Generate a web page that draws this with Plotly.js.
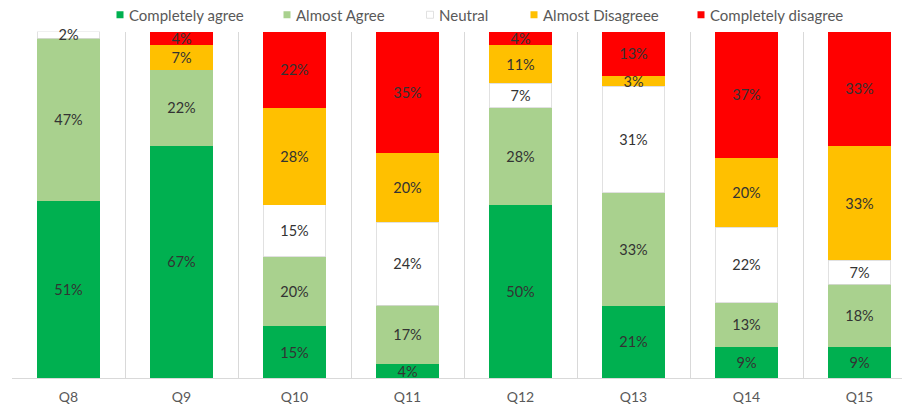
<!DOCTYPE html>
<html>
<head>
<meta charset="utf-8">
<script src="https://cdn.plot.ly/plotly-3.0.1.min.js"></script>
<style>html,body{margin:0;padding:0;background:#fff;overflow:hidden;}</style>
</head>
<body>
<div id="chart" style="width:902px;height:407px;"></div>
<script>
const categories = ["Q8","Q9","Q10","Q11","Q12","Q13","Q14","Q15"];
const seriesNames = ["Completely agree","Almost Agree","Neutral","Almost Disagreee","Completely disagree"];
const completelyAgree    = [51, 67, 15,  4, 50, 21,  9,  9];
const almostAgree        = [47, 22, 20, 17, 28, 33, 13, 18];
const neutral            = [ 2,  0, 15, 24,  7, 31, 22,  7];
const almostDisagree     = [ 0,  7, 28, 20, 11,  3, 20, 33];
const completelyDisagree = [ 0,  4, 22, 35,  4, 13, 37, 33];
const seriesValues = [completelyAgree, almostAgree, neutral, almostDisagree, completelyDisagree];
const seriesColors = ["#00B050","#A9D18E","#FFFFFF","#FFC000","#FF0000"];
const seriesLines  = ["#00B050","#A9D18E","#D9D9D9","#FFC000","#FF0000"];

const FONT = "Lato, 'Liberation Sans', Arial, sans-serif";
// legend text left edges (pixels)
const legendTextX = [129, 296, 439, 543, 710];
const legendIds = ["legend","legend2","legend3","legend4","legend5"];

const traces = seriesValues.map((vals, i) => ({
  type: "bar",
  name: seriesNames[i],
  legend: legendIds[i],
  x: categories,
  y: vals,
  text: vals.map(v => v > 0 ? v + "%" : ""),
  textposition: "inside",
  insidetextanchor: "middle",
  textangle: 0,
  constraintext: "none",
  cliponaxis: false,
  textfont: {family: FONT, size: 14.5, color: "#333333"},
  marker: {color: seriesColors[i], line: {color: seriesLines[i], width: i === 2 ? 0.8 : 0}},
  hoverinfo: "none"
}));

const layout = {
  width: 902, height: 407,
  margin: {l: 12, r: 0, t: 31, b: 29, pad: 0},
  paper_bgcolor: "#ffffff",
  plot_bgcolor: "#ffffff",
  barmode: "stack",
  barnorm: "percent",
  bargap: 0.45,
  font: {family: FONT, size: 14, color: "#595959"},
  showlegend: true,
  xaxis: {
    type: "category",
    range: [-0.5, -0.5 + 890/113],
    tickson: "boundaries",
    showgrid: true,
    gridcolor: "#D9D9D9",
    gridwidth: 1,
    showline: true,
    linecolor: "#D9D9D9",
    linewidth: 1,
    ticks: "",
    ticklabelstandoff: 6,
    tickfont: {family: FONT, size: 14, color: "#595959"},
    fixedrange: true
  },
  yaxis: {
    range: [0, 100],
    visible: false,
    showgrid: false,
    zeroline: false,
    fixedrange: true
  }
};
legendIds.forEach((id, i) => {
  layout[id] = {
    orientation: "h",
    xref: "container", yref: "container",
    x: (legendTextX[i] - 40) / 902, xanchor: "left",
    y: 1 - 15/407, yanchor: "middle",
    font: {family: FONT, size: 15, color: "#595959"},
    bgcolor: "rgba(0,0,0,0)",
    itemclick: false
  };
});

Plotly.newPlot("chart", traces, layout, {staticPlot: true, displayModeBar: false}).then(() => {
  document.querySelectorAll("#chart .legendpoints path").forEach(p => {
    p.setAttribute("d", "M14.5,3.5H7.5V-3.5H14.5Z");
  });
});
</script>
</body>
</html>
